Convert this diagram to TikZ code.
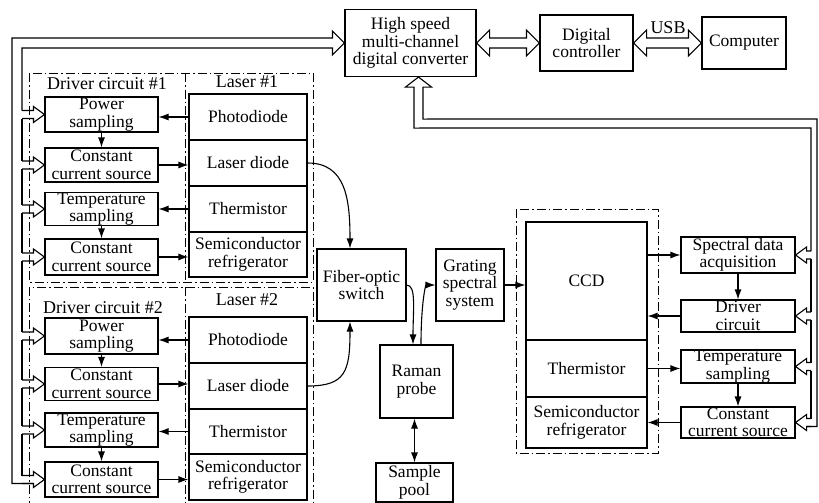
\documentclass[tikz,border=0pt]{standalone}
\usepackage{fontspec}
\setmainfont{Liberation Serif}
\usetikzlibrary{calc,arrows.meta}
\newcommand\tapL[1]{\draw[bus] ($(bi |- #1.west)+(0,-4)$) -- ($(#1.west)+(-11,-4)$) -- ++(0,-4) -- (#1.west) -- ($(#1.west)+(-11,8)$) -- ++(0,-4) -- ($(bi |- #1.west)+(0,4)$);}
\newcommand\segL[2]{\draw[bus] ($(bi |- #1.west)+(0,4)$) -- ($(bi |- #2.west)+(0,-4)$);}
\newcommand\tapR[1]{\draw[bus] ($(ri |- #1.east)+(0,-4)$) -- ($(#1.east)+(11,-4)$) -- ++(0,-4) -- (#1.east) -- ($(#1.east)+(11,8)$) -- ++(0,-4) -- ($(ri |- #1.east)+(0,4)$);}
\newcommand\segR[2]{\draw[bus] ($(ri |- #1.east)+(0,4)$) -- ($(ri |- #2.east)+(0,-4)$);}
\newcommand\dblH[2]{\draw[bus] (#1.east) -- ++(13,-13) -- ++(0,8) -- ($(#2.west)+(-13,-5)$) -- ++(0,-8) -- (#2.west) -- ++(-13,13) -- ++(0,-8) -- ($(#1.east)+(13,5)$) -- ++(0,8) -- cycle;}
\begin{document}
\begin{tikzpicture}[x=1pt,y=-1pt,
  box/.style={draw, line width=1.1pt, inner sep=0pt, align=center, font=\fontsize{17.5}{17.5}\selectfont},
  lbl/.style={inner sep=0pt, font=\fontsize{18}{18}\selectfont},
  arr/.style={line width=1.1pt, -{Latex[length=10pt,width=7pt]}},
  dbl/.style={line width=1.1pt, {Latex[length=10pt,width=7pt]}-{Latex[length=10pt,width=7pt]}},
  bus/.style={line width=1.1pt, line join=miter},
  encl/.style={line width=0.9pt, dash pattern=on 9pt off 3pt on 1.5pt off 3pt}]
\useasboundingbox (0,0) rectangle (819,503);
% top row
\node[box, minimum width=131pt, minimum height=67pt] (conv) at (410.5,43) {High speed\\multi-channel\\digital converter};
\node[box, minimum width=93pt, minimum height=56pt] (ctrl) at (586.5,43) {Digital\\controller};
\node[box, minimum width=84pt, minimum height=52pt] (comp) at (744,43) {Computer};
\node[lbl] (usb) at (668,28) {USB};
\dblH{conv}{ctrl}
\dblH{ctrl}{comp}
% enclosures
\draw[encl] (29,73) rectangle (313,282);
\draw[encl] (185,73) -- (185,282);
\draw[encl] (29,510) -- (29,287) -- (313,287) -- (313,510);
\draw[encl] (185,287) -- (185,510);
\draw[encl] (516,209) rectangle (658,453);
\node[lbl] (dc1) at (107,84) {Driver circuit \#1};
\node[lbl] (la1) at (247,82) {Laser \#1};
\node[lbl] (dc2) at (103,308) {Driver circuit \#2};
\node[lbl] (la2) at (247,300) {Laser \#2};
% driver circuit 1
\node[box, minimum width=113pt, minimum height=35pt] (ps1) at (101.5,114.5) {Power\\sampling};
\node[box, minimum width=113pt, minimum height=34pt] (cc1) at (101.5,165) {Constant\\current source};
\node[box, minimum width=113pt, minimum height=32pt] (ts1) at (101.5,209) {Temperature\\sampling};
\node[box, minimum width=113pt, minimum height=36pt] (cc1b) at (101.5,257) {Constant\\current source};
% laser 1
\node[box, minimum width=118pt, minimum height=46pt] (pd1) at (248,117) {Photodiode};
\node[box, minimum width=118pt, minimum height=46pt] (ld1) at (248,163) {Laser diode};
\node[box, minimum width=118pt, minimum height=46pt] (th1) at (248,209) {Thermistor};
\node[box, minimum width=118pt, minimum height=45pt] (sr1) at (248,254.5) {Semiconductor\\refrigerator};
% driver circuit 2
\node[box, minimum width=113pt, minimum height=36pt] (ps2) at (101.5,336) {Power\\sampling};
\node[box, minimum width=113pt, minimum height=33pt] (cc2) at (101.5,384) {Constant\\current source};
\node[box, minimum width=113pt, minimum height=34pt] (ts2) at (101.5,430) {Temperature\\sampling};
\node[box, minimum width=113pt, minimum height=35pt] (cc2b) at (101.5,479.5) {Constant\\current source};
% laser 2
\node[box, minimum width=118pt, minimum height=46pt] (pd2) at (248,340) {Photodiode};
\node[box, minimum width=118pt, minimum height=46pt] (ld2) at (248,386) {Laser diode};
\node[box, minimum width=118pt, minimum height=45pt] (th2) at (248,431.5) {Thermistor};
\node[box, minimum width=118pt, minimum height=46pt] (sr2) at (248,477) {Semiconductor\\refrigerator};
% middle
\node[box, minimum width=89pt, minimum height=72pt] (fos) at (361.5,285) {Fiber-optic\\switch};
\node[box, minimum width=68pt, minimum height=72pt] (grat) at (470,285) {Grating\\spectral\\system};
\node[box, minimum width=73pt, minimum height=73pt] (raman) at (416.5,381.5) {Raman\\probe};
\node[box, minimum width=77pt, minimum height=39pt] (pool) at (414.5,482.5) {Sample\\pool};
% CCD
\node[box, minimum width=121pt, minimum height=118pt] (ccd) at (586.5,281) {CCD};
\node[box, minimum width=121pt, minimum height=57pt] (th3) at (586.5,368.5) {Thermistor};
\node[box, minimum width=121pt, minimum height=51pt] (sr3) at (586.5,422.5) {Semiconductor\\refrigerator};
% right
\node[box, minimum width=114pt, minimum height=36pt] (sda) at (738,255) {Spectral data\\acquisition};
\node[box, minimum width=114pt, minimum height=32pt] (drv) at (738,316) {Driver\\circuit};
\node[box, minimum width=114pt, minimum height=33pt] (ts3) at (738,366.5) {Temperature\\sampling};
\node[box, minimum width=114pt, minimum height=31pt] (cc3) at (738,422.5) {Constant\\current source};
% simple arrows left
\draw[arr] (pd1.west) -- (pd1.west -| ps1.east);
\draw[arr] (cc1.east) -- (cc1.east -| ld1.west);
\draw[arr] (th1.west) -- (th1.west -| ts1.east);
\draw[arr] (cc1b.east) -- (cc1b.east -| sr1.west);
\draw[arr] (ps1.south) -- (cc1.north);
\draw[arr] (ts1.south) -- (cc1b.north);
\draw[arr] (pd2.west) -- (pd2.west -| ps2.east);
\draw[arr] (cc2.east) -- (cc2.east -| ld2.west);
\draw[arr] (th2.west) -- (th2.west -| ts2.east);
\draw[arr] (cc2b.east) -- (cc2b.east -| sr2.west);
\draw[arr] (ps2.south) -- (cc2.north);
\draw[arr] (ts2.south) -- (cc2b.north);
% optical path
\draw[arr] (ld1.east) .. controls +(38,0) and +(0,-50) .. ($(fos.north)+(-11.5,0)$);
\draw[arr] (ld2.east) .. controls +(38,0) and +(0,50) .. ($(fos.south)+(-11.5,0)$);
\draw[arr] (fos.east) .. controls +(10,0) and +(0,-35) .. ($(raman.north)+(-3.5,0)$);
\draw[arr] ($(raman.north)+(4.5,0)$) .. controls +(0,-40) and +(-10,0) .. (grat.west);
\draw[dbl] (pool.north |- raman.south) -- (pool.north);
\draw[arr] (grat.east) -- (grat.east -| ccd.west);
% right arrows
\draw[arr] (ccd.east |- sda.west) -- (sda.west);
\draw[arr] (drv.west) -- (drv.west -| ccd.east);
\draw[arr] (th3.east) -- (th3.east -| ts3.west);
\draw[arr] (cc3.west) -- (cc3.west -| sr3.east);
\draw[arr] (sda.south) -- (drv.north);
\draw[arr] (ts3.south) -- (cc3.north);
% left bus
\coordinate (bi) at (22,0);
\coordinate (bo) at (12,0);
\draw[bus] ($(bi |- ps1.west)+(0,-4)$) -- ($(bi)+(0,48)$) -- ($(conv.west)+(-12,5)$) -- ++(0,7) -- (conv.west) -- ++(-12,-12) -- ++(0,7) -- ($(bo)+(0,38)$) -- ($(bo |- cc2b.west)+(0,4)$) -- ($(cc2b.west)+(-11,4)$);
\tapL{ps1}\segL{ps1}{cc1}
\tapL{cc1}\segL{cc1}{ts1}
\tapL{ts1}\segL{ts1}{cc1b}
\tapL{cc1b}\segL{cc1b}{ps2}
\tapL{ps2}\segL{ps2}{cc2}
\tapL{cc2}\segL{cc2}{ts2}
\tapL{ts2}\segL{ts2}{cc2b}
\tapL{cc2b}
% right bus
\coordinate (ri) at (811,0);
\coordinate (ro) at (817,0);
\coordinate (ct) at ($(conv.south)+(8,0)$);
\draw[bus] ($(ri |- sda.east)+(0,-4)$) -- ($(ri)+(0,128)$) -- ($(ct)+(-4.5,51)$) -- ($(ct)+(-4.5,10)$) -- ($(ct)+(-13,10)$) -- (ct) -- ($(ct)+(13,10)$) -- ($(ct)+(4.5,10)$) -- ($(ct)+(4.5,42)$) -- ($(ro)+(0,119)$) -- ($(ro |- cc3.east)+(0,4)$) -- ($(cc3.east)+(11,4)$);
\tapR{sda}\segR{sda}{drv}
\tapR{drv}\segR{drv}{ts3}
\tapR{ts3}\segR{ts3}{cc3}
\tapR{cc3}
\end{tikzpicture}
\end{document}
